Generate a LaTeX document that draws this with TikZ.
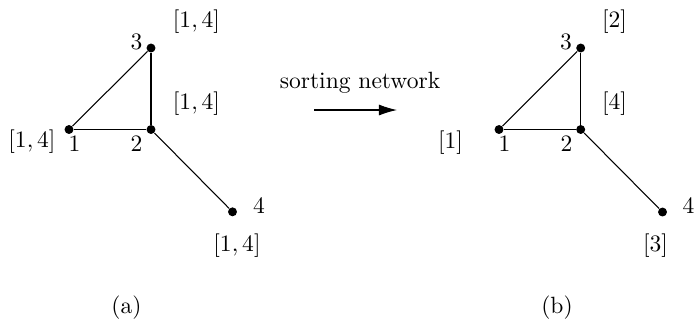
\documentclass[tikz,border=0pt]{standalone}
\usetikzlibrary{arrows.meta}
\begin{document}
\begin{tikzpicture}[x=0.425pt,y=-0.425pt,
  vtx/.style={circle,fill=black,inner sep=0pt,minimum size=3.8pt},
  lbl/.style={inner sep=0pt,anchor=center},
  edge/.style={line width=0.45pt}]
\useasboundingbox (0,0) rectangle (695,321);
% graph (a)
\node[vtx] (a1) at (69,129.5) {};
\node[vtx] (a2) at (151,129.5) {};
\node[vtx] (a3) at (151,48) {};
\node[vtx] (a4) at (232.5,211.8) {};
\draw[edge] (a1) -- (a2);
\draw[edge] (a1) -- (a3);
\draw[edge] (a3) -- (a2);
\draw[edge] (a2) -- (a4);
\node[lbl] (a1n) at (74.5,143.5) {1};
\node[lbl] (a2n) at (136.5,143.5) {2};
\node[lbl] (a3n) at (136.5,42) {3};
\node[lbl] (a4n) at (259,205.5) {4};
\node[lbl] (a1v) at (32,141.5) {$[1,4]$};
\node[lbl] (a3v) at (196.5,22) {$[1,4]$};
\node[lbl] (a2v) at (196.5,104) {$[1,4]$};
\node[lbl] (a4v) at (237,245.5) {$[1,4]$};
\node[lbl] (capa) at (126.5,307.5) {(a)};
% arrow
\node[lbl] (sn) at (360,82.5) {sorting network};
\coordinate (arS) at (314,110);
\coordinate (arE) at (397,110);
\draw[edge,-{Latex[length=7.7pt,width=4.7pt]}] (arS) -- (arE);
% graph (b)
\node[vtx] (b1) at (499,129.5) {};
\node[vtx] (b2) at (580.7,129.5) {};
\node[vtx] (b3) at (580.7,48) {};
\node[vtx] (b4) at (662.5,212) {};
\draw[edge] (b1) -- (b2);
\draw[edge] (b1) -- (b3);
\draw[edge] (b3) -- (b2);
\draw[edge] (b2) -- (b4);
\node[lbl] (b1n) at (504.5,143.5) {1};
\node[lbl] (b2n) at (566.5,143.5) {2};
\node[lbl] (b3n) at (566,42) {3};
\node[lbl] (b4n) at (688.5,205.5) {4};
\node[lbl] (b1v) at (450.5,143) {$[1]$};
\node[lbl] (b3v) at (614.5,21.5) {$[2]$};
\node[lbl] (b2v) at (614.5,104) {$[4]$};
\node[lbl] (b4v) at (655.5,246) {$[3]$};
\node[lbl] (capb) at (557,308) {(b)};
\end{tikzpicture}
\end{document}
